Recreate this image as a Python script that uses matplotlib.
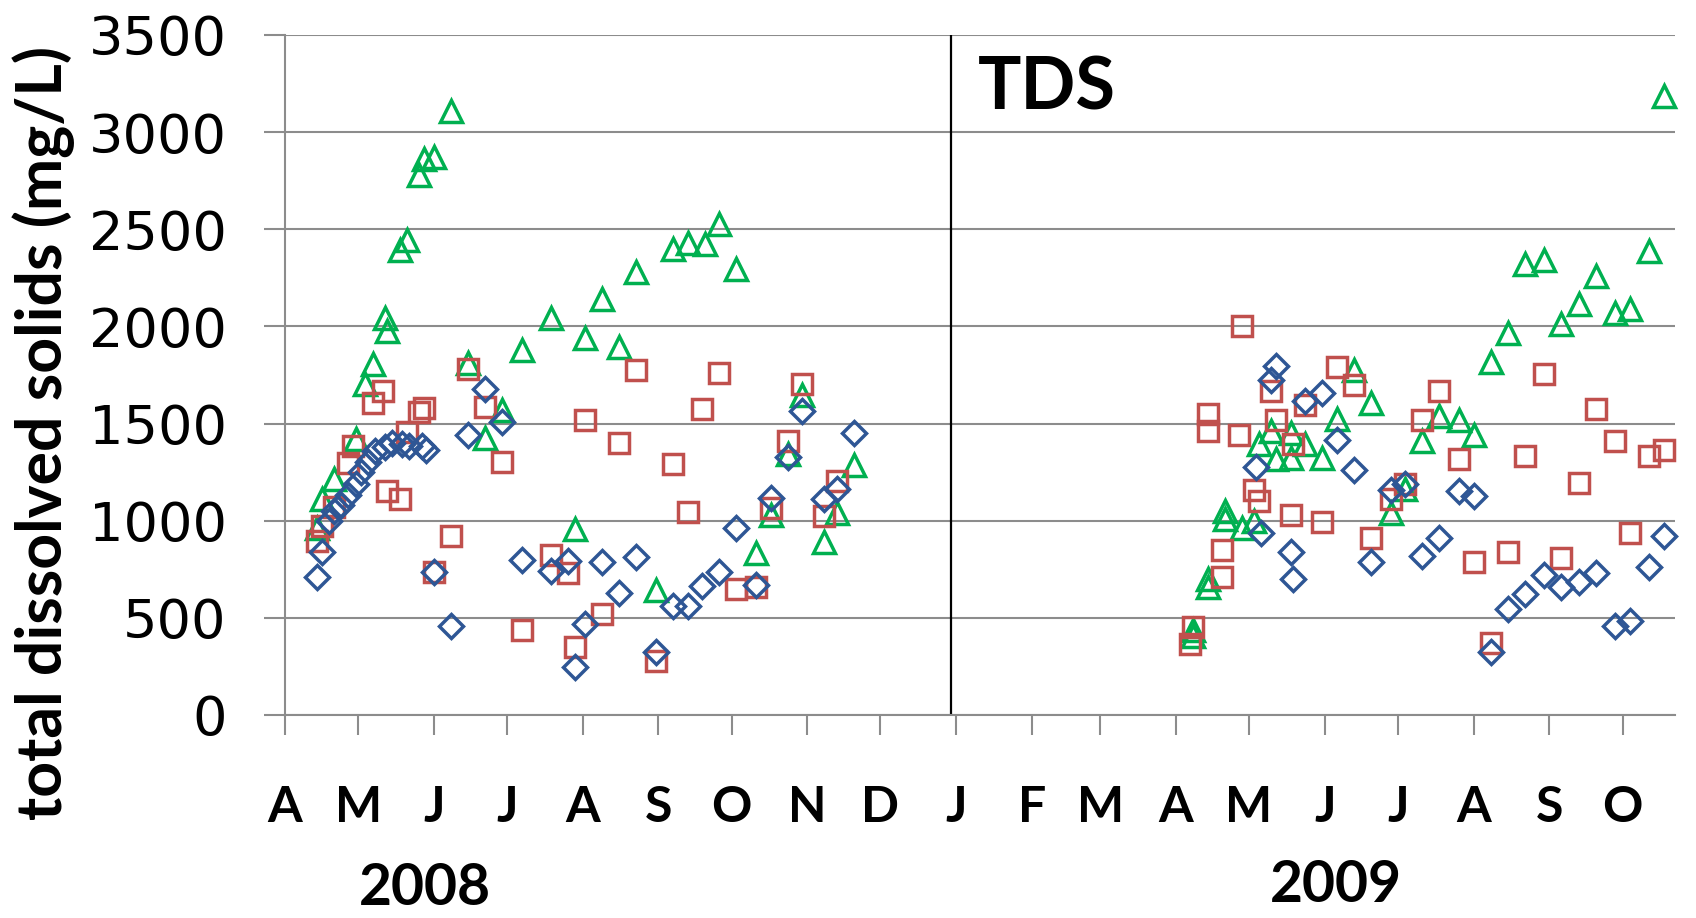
import numpy as np
import matplotlib
matplotlib.use("Agg")
import matplotlib.pyplot as plt
from matplotlib.ticker import FixedLocator

# ---------------- data ----------------
green_dates = ['2008-04-14', '2008-04-16', '2008-04-21', '2008-04-30', '2008-05-04', '2008-05-07',
               '2008-05-12', '2008-05-13', '2008-05-18', '2008-05-21', '2008-05-26', '2008-05-28',
               '2008-06-01', '2008-06-08', '2008-06-15', '2008-06-22', '2008-06-29', '2008-07-07',
               '2008-07-19', '2008-07-29', '2008-08-02', '2008-08-09', '2008-08-16', '2008-08-23',
               '2008-08-31', '2008-09-07', '2008-09-13', '2008-09-20', '2008-09-26', '2008-10-03',
               '2008-10-11', '2008-10-17', '2008-10-24', '2008-10-30', '2008-11-08', '2008-11-13',
               '2008-11-20',
               '2009-04-08', '2009-04-08', '2009-04-14', '2009-04-14', '2009-04-21', '2009-04-21',
               '2009-04-28', '2009-05-03', '2009-05-05', '2009-05-10', '2009-05-12', '2009-05-18',
               '2009-05-18', '2009-05-24', '2009-05-31', '2009-06-06', '2009-06-13', '2009-06-20',
               '2009-06-28', '2009-07-04', '2009-07-11', '2009-07-18', '2009-07-26', '2009-08-01',
               '2009-08-08', '2009-08-15', '2009-08-22', '2009-08-30', '2009-09-06', '2009-09-13',
               '2009-09-20', '2009-09-28', '2009-10-04', '2009-10-12', '2009-10-18']
green_tds = [960, 1110, 1215, 1420, 1702, 1809,
             2043, 1979, 2394, 2447, 2781, 2862,
             2873, 3107, 1810, 1427, 1570, 1880,
             2045, 957, 1940, 2139, 1895, 2280,
             644, 2401, 2428, 2422, 2527, 2298,
             836, 1029, 1341, 1648, 893, 1041,
             1287,
             440, 405, 700, 660, 1050, 1010,
             960, 1000, 1393, 1461, 1316, 1453,
             1324, 1393, 1324, 1521, 1777, 1606,
             1040, 1165, 1410, 1538, 1520, 1443,
             1816, 1965, 2320, 2342, 2013, 2116,
             2259, 2068, 2090, 2386, 3186]

red_dates = ['2008-04-14', '2008-04-16', '2008-04-21', '2008-04-27', '2008-04-29', '2008-05-07',
             '2008-05-11', '2008-05-13', '2008-05-18', '2008-05-21', '2008-05-26', '2008-05-28',
             '2008-06-01', '2008-06-08', '2008-06-15', '2008-06-22', '2008-06-29', '2008-07-07',
             '2008-07-19', '2008-07-26', '2008-07-29', '2008-08-02', '2008-08-09', '2008-08-16',
             '2008-08-23', '2008-08-31', '2008-09-07', '2008-09-13', '2008-09-19', '2008-09-26',
             '2008-10-03', '2008-10-11', '2008-10-17', '2008-10-24', '2008-10-30', '2008-11-08',
             '2008-11-13',
             '2009-04-07', '2009-04-08', '2009-04-14', '2009-04-14', '2009-04-20', '2009-04-20',
             '2009-04-27', '2009-04-28', '2009-05-03', '2009-05-05', '2009-05-10', '2009-05-12',
             '2009-05-18', '2009-05-19', '2009-05-24', '2009-05-31', '2009-06-06', '2009-06-13',
             '2009-06-20', '2009-06-28', '2009-07-04', '2009-07-11', '2009-07-18', '2009-07-26',
             '2009-08-01', '2009-08-08', '2009-08-15', '2009-08-22', '2009-08-30', '2009-09-06',
             '2009-09-13', '2009-09-20', '2009-09-28', '2009-10-04', '2009-10-12', '2009-10-18']
red_tds = [895, 975, 1070, 1295, 1385, 1607,
           1670, 1153, 1111, 1458, 1560, 1580,
           734, 920, 1780, 1584, 1300, 436,
           821, 731, 352, 1520, 518, 1402,
           1778, 280, 1290, 1043, 1576, 1760,
           650, 659, 1065, 1408, 1706, 1023,
           1204,
           365, 455, 1461, 1547, 709, 849,
           1441, 2000, 1157, 1102, 1666, 1516,
           1029, 1396, 1598, 995, 1789, 1700,
           911, 1111, 1188, 1516, 1666, 1316,
           785, 373, 840, 1333, 1754, 807,
           1195, 1575, 1410, 939, 1333, 1366]

blue_dates = ['2008-04-14', '2008-04-16', '2008-04-19', '2008-04-21', '2008-04-24', '2008-04-27',
              '2008-04-30', '2008-05-02', '2008-05-05', '2008-05-08', '2008-05-12', '2008-05-15',
              '2008-05-19', '2008-05-22', '2008-05-27', '2008-05-29', '2008-06-01', '2008-06-08',
              '2008-06-15', '2008-06-22', '2008-06-29', '2008-07-07', '2008-07-19', '2008-07-26',
              '2008-07-29', '2008-08-02', '2008-08-09', '2008-08-16', '2008-08-23', '2008-08-31',
              '2008-09-07', '2008-09-13', '2008-09-19', '2008-09-26', '2008-10-03', '2008-10-11',
              '2008-10-17', '2008-10-24', '2008-10-30', '2008-11-08', '2008-11-13', '2008-11-20',
              '2009-05-04', '2009-05-06', '2009-05-10', '2009-05-12', '2009-05-18', '2009-05-19',
              '2009-05-24', '2009-05-31', '2009-06-06', '2009-06-13', '2009-06-20', '2009-06-28',
              '2009-07-04', '2009-07-11', '2009-07-18', '2009-07-26', '2009-08-01', '2009-08-08',
              '2009-08-15', '2009-08-22', '2009-08-30', '2009-09-06', '2009-09-13', '2009-09-20',
              '2009-09-28', '2009-10-04', '2009-10-12', '2009-10-18']
blue_tds = [710, 840, 1000, 1050, 1080, 1130,
            1190, 1250, 1300, 1360, 1380, 1400,
            1395, 1385, 1383, 1365, 734, 458,
            1439, 1679, 1509, 798, 740, 794,
            247, 469, 785, 626, 812, 325,
            560, 560, 662, 735, 960, 668,
            1119, 1327, 1567, 1114, 1164, 1449,
            1275, 935, 1726, 1794, 837, 701,
            1615, 1658, 1418, 1260, 790, 1157,
            1188, 820, 910, 1151, 1129, 325,
            544, 621, 719, 658, 686, 730,
            456, 485, 763, 921]

month_labels = ['A', 'M', 'J', 'J', 'A', 'S', 'O', 'N', 'D',
                'J', 'F', 'M', 'A', 'M', 'J', 'J', 'A', 'S', 'O']
year_labels = ['2008', '2009']
y_ticks = [0, 500, 1000, 1500, 2000, 2500, 3000, 3500]

# ---------------- styling ----------------
GRID = '#8c8c8c'
C_GREEN = '#00B050'
C_RED = '#C0504D'
C_BLUE = '#2E5695'
BOLD_FONT = ['Lato', 'DejaVu Sans']

W, H = 1696, 918
fig = plt.figure(figsize=(W / 100, H / 100), dpi=100)
x0, x1, yb, yt = 284.9, 1675.0, 715.0, 35.0
ax = fig.add_axes([x0 / W, 1 - yb / H, (x1 - x0) / W, (yb - yt) / H])

def d64(lst):
    return np.array(lst, dtype='datetime64[D]')

ax.plot(d64(green_dates), green_tds, linestyle='none', marker='^', ms=16.5,
        mfc='none', mec=C_GREEN, mew=2.5, zorder=3, clip_on=False)
ax.plot(d64(red_dates), red_tds, linestyle='none', marker='s', ms=14.5,
        mfc='none', mec=C_RED, mew=2.5, zorder=3, clip_on=False)
ax.plot(d64(blue_dates), blue_tds, linestyle='none', marker='D', ms=12.5,
        mfc='none', mec=C_BLUE, mew=2.5, zorder=3, clip_on=False)

# axes limits
ax.set_xlim(np.datetime64('2008-04-01'), np.datetime64('2009-10-22T12'))
ax.set_ylim(0, 3500)

# year divider
ax.axvline(np.datetime64('2008-12-30'), color='black', lw=1.6, zorder=2)

# grid & spines
ax.yaxis.set_major_locator(FixedLocator(y_ticks))
ax.grid(axis='y', color=GRID, lw=1.5, zorder=1)
ax.set_axisbelow(True)
for s in ['top', 'right']:
    ax.spines[s].set_visible(False)
for s in ['left', 'bottom']:
    ax.spines[s].set_color(GRID)
    ax.spines[s].set_linewidth(1.5)

# x ticks at month starts
month_ticks = np.arange(np.datetime64('2008-04'), np.datetime64('2009-11'),
                        dtype='datetime64[M]').astype('datetime64[D]')
ax.set_xticks(month_ticks)
ax.set_xticklabels(month_labels)
ax.tick_params(axis='x', direction='out', length=14.4, width=1.5, color=GRID,
               pad=36, labelsize=36)
for lbl in ax.get_xticklabels():
    lbl.set_fontfamily(BOLD_FONT)
    lbl.set_fontweight('bold')

ax.set_yticks(y_ticks)
ax.set_yticklabels([str(v) for v in y_ticks])
ax.tick_params(axis='y', direction='out', length=15, width=1.5, color=GRID,
               pad=27, labelsize=39)
for lbl in ax.get_yticklabels():
    lbl.set_fontfamily('DejaVu Sans')

# texts
ax.text((978 - x0) / (x1 - x0), (yb - 110) / (yb - yt), 'TDS',
        transform=ax.transAxes, ha='left', va='baseline',
        fontsize=52, fontweight='bold', family=BOLD_FONT)

fig.text(44 / W, 1 - 433 / H, 'total dissolved solids (mg/L)', rotation=90,
         ha='center', va='center', fontsize=45, fontweight='bold', family=BOLD_FONT)

fig.text(425 / W, 1 - 905 / H, year_labels[0], ha='center', va='baseline',
         fontsize=41, fontweight='bold', family=BOLD_FONT)
fig.text(1336 / W, 1 - 902 / H, year_labels[1], ha='center', va='baseline',
         fontsize=41, fontweight='bold', family=BOLD_FONT)

fig.savefig('out.png', dpi=100)
